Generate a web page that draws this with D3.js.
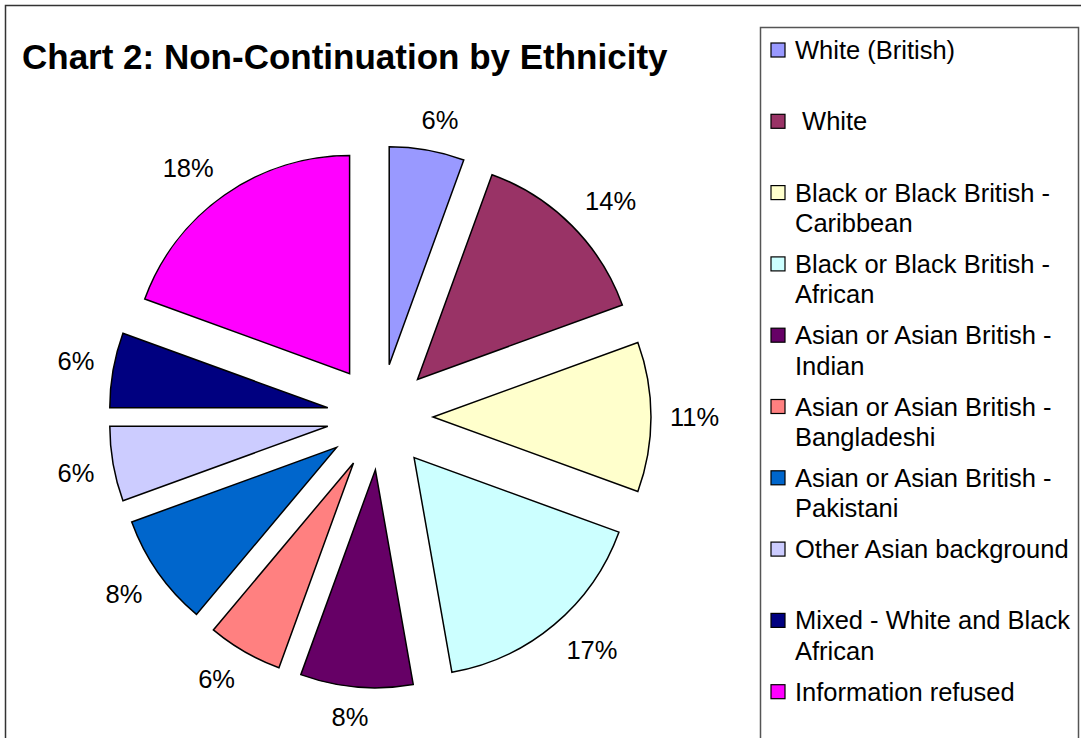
<!DOCTYPE html>
<html>
<head>
<meta charset="utf-8">
<script src="https://cdn.jsdelivr.net/npm/d3@7"></script>
<style>
  body { margin: 0; background: #fff; }
  svg text { font-family: Arial, "Liberation Sans", sans-serif; }
</style>
</head>
<body>
<svg id="chart" width="1081" height="738"></svg>
<script>
// categories, in drawing order (clockwise from 12 o'clock)
var categories = ["White (British)", " White", "Black or Black British - Caribbean",
  "Black or Black British - African", "Asian or Asian British - Indian",
  "Asian or Asian British - Bangladeshi", "Asian or Asian British - Pakistani",
  "Other Asian background", "Mixed - White and Black African", "Information refused"];
// counts (36 in all)
var counts = [2, 5, 4, 6, 3, 2, 3, 2, 2, 7];
var colors = ["#9999FF", "#993366", "#FFFFCC", "#CCFFFF", "#660066",
  "#FF8080", "#0066CC", "#CCCCFF", "#000080", "#FF00FF"];

var svg = d3.select("#chart");

// outer chart frame
svg.append("rect")
   .attr("x", 5.5).attr("y", 5.5)
   .attr("width", 1100).attr("height", 800)
   .attr("fill", "#fff")
   .attr("stroke", "#333").attr("stroke-width", 1.5);

svg.append("text")
   .attr("x", 22).attr("y", 69)
   .style("font-size", "35px")
   .style("font-weight", "bold")
   .text("Chart 2: Non-Continuation by Ethnicity");

// percentages, rounded like the spreadsheet does (forced to add up to 100)
var total = d3.sum(counts);
var pcts = counts.map(function(c) { return Math.round(c / total * 100); });
var diff = 100 - d3.sum(pcts);
pcts[d3.maxIndex(counts)] += diff;

var cx = 380, cy = 417, radius = 218, explode = 53, labelDist = 290;

var pie = d3.pie().sort(null).value(function(d) { return d; });
var arc = d3.arc().innerRadius(0).outerRadius(radius);
var arcs = pie(counts);

var g = svg.append("g").attr("transform", "translate(" + cx + "," + cy + ")");

g.selectAll("path.slice")
 .data(arcs)
 .enter()
 .append("path")
 .attr("class", "slice")
 .attr("d", arc)
 .attr("fill", function(d, i) { return colors[i]; })
 .attr("stroke", "#000")
 .attr("stroke-width", 1.5)
 .attr("stroke-linejoin", "miter")
 .attr("transform", function(d) {
   var a = (d.startAngle + d.endAngle) / 2;
   return "translate(" + [Math.sin(a) * explode, -Math.cos(a) * explode] + ")";
 });

function clamp(v) { return Math.max(-1, Math.min(1, v)); }

g.selectAll("text.pct")
 .data(arcs)
 .enter()
 .append("text")
 .attr("class", "pct")
 .style("font-size", "25.5px")
 .attr("text-anchor", "middle")
 .text(function(d, i) { return pcts[i] + "%"; })
 .each(function(d) {
   var a = (d.startAngle + d.endAngle) / 2;
   var hw = this.getComputedTextLength() / 2, hh = 11;
   var x = Math.sin(a) * labelDist + hw * clamp(Math.sin(a) * 3);
   var y = -Math.cos(a) * labelDist - hh * clamp(Math.cos(a) * 3);
   d3.select(this).attr("x", x).attr("y", y + 9);
 });

// legend
var legend = svg.append("g");
legend.append("rect")
      .attr("x", 760.5).attr("y", 27.5)
      .attr("width", 318).attr("height", 760)
      .attr("fill", "#fff")
      .attr("stroke", "#555").attr("stroke-width", 1.5);

var maxW = 286;
categories.forEach(function(name, i) {
  var base = 59 + i * 71.3;
  legend.append("rect")
        .attr("x", 771).attr("y", base - 16)
        .attr("width", 14).attr("height", 14)
        .attr("fill", colors[i])
        .attr("stroke", "#000").attr("stroke-width", 1.2);

  var t = legend.append("text")
                .attr("x", 795).attr("y", base)
                .style("font-size", "25.5px")
                .style("white-space", "pre");
  // simple word wrap
  var words = name.split(" "), line = [], lineNo = 0;
  var span = t.append("tspan").attr("x", 795).attr("y", base);
  words.forEach(function(w) {
    line.push(w);
    span.text(line.join(" "));
    if (span.node().getComputedTextLength() > maxW && line.length > 1) {
      line.pop();
      span.text(line.join(" "));
      line = [w];
      lineNo++;
      span = t.append("tspan").attr("x", 795).attr("y", base + lineNo * 30.5).text(w);
    }
  });
});
</script>
</body>
</html>
